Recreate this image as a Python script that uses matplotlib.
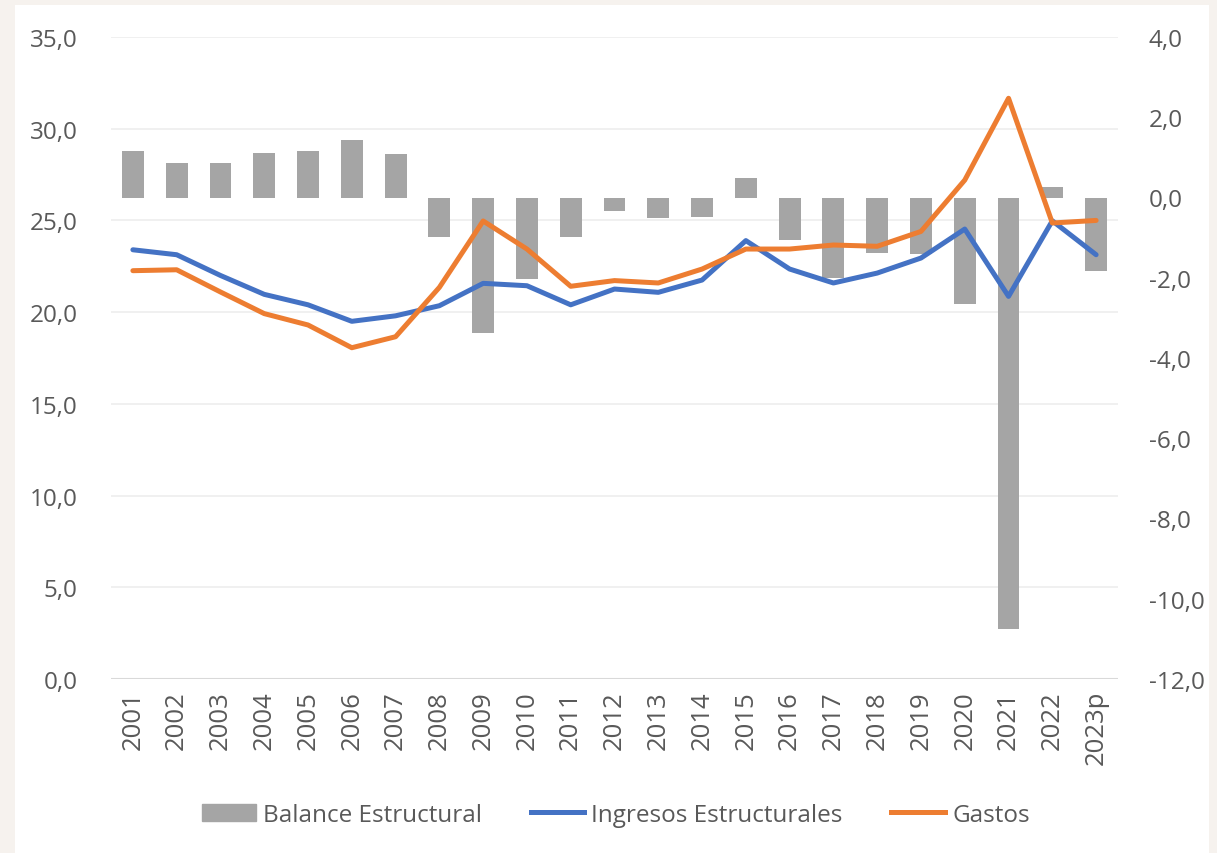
import numpy as np
import matplotlib.pyplot as plt
import matplotlib.patches as mpatches
from matplotlib.lines import Line2D

years = ['2001', '2002', '2003', '2004', '2005', '2006', '2007', '2008', '2009', '2010',
         '2011', '2012', '2013', '2014', '2015', '2016', '2017', '2018', '2019', '2020',
         '2021', '2022', '2023p']
balance = [1.15, 0.86, 0.85, 1.10, 1.15, 1.43, 1.09, -0.99, -3.38, -2.03,
           -0.99, -0.34, -0.50, -0.49, 0.49, -1.06, -2.01, -1.39, -1.42, -2.65,
           -10.75, 0.25, -1.84]
ingresos = [23.4, 23.13, 22.0, 20.97, 20.4, 19.5, 19.8, 20.35, 21.57, 21.44,
            20.4, 21.26, 21.08, 21.75, 23.9, 22.35, 21.59, 22.13, 22.95, 24.53,
            20.86, 24.98, 23.13]
gastos = [22.26, 22.31, 21.1, 19.92, 19.3, 18.06, 18.66, 21.35, 24.97, 23.44,
          21.41, 21.72, 21.59, 22.35, 23.44, 23.44, 23.66, 23.59, 24.4, 27.2,
          31.66, 24.86, 25.0]

gray = '#a5a5a5'
blue = '#4472c4'
orange = '#ed7d31'
txt = '#595959'
plt.rcParams['font.family'] = ['Open Sans', 'DejaVu Sans']

fig = plt.figure(figsize=(12.17, 8.54), dpi=100, facecolor='#f6f2ee')
fig.patches.append(mpatches.Rectangle((15 / 1217, 0), (1209 - 15) / 1217, 1 - 6 / 854,
                                      transform=fig.transFigure, facecolor='white',
                                      edgecolor='none', zorder=0))

x = np.arange(len(years))
ax = fig.add_axes([111 / 1217, 1 - 680 / 854, (1118 - 111) / 1217, (680 - 38) / 854])
ax.set_facecolor('none')
ax2 = ax.twinx()
ax.set_zorder(2)
ax2.set_zorder(1)

ax2.bar(x, balance, width=0.5, color=gray, zorder=2)
ax2.set_ylim(-12, 4)
ax2.set_yticks(np.arange(-12, 5, 2))
ax2.set_yticklabels([f'{v:.1f}'.replace('.', ',') for v in np.arange(-12, 5, 2)])

ax.plot(x, ingresos, color=blue, lw=3.6, solid_capstyle='round', solid_joinstyle='round')
ax.plot(x, gastos, color=orange, lw=3.6, solid_capstyle='round', solid_joinstyle='round')
ax.set_ylim(0, 35)
ax.set_xlim(-0.5, len(years) - 0.5)
ax.set_yticks(np.arange(0, 36, 5))
ax.set_yticklabels([f'{v:.1f}'.replace('.', ',') for v in np.arange(0, 36, 5)])
ax.set_xticks(x)
ax.set_xticklabels(years, rotation=90)

ax2.set_axisbelow(True)
for a in (ax, ax2):
    for s in a.spines.values():
        s.set_visible(False)
    a.tick_params(length=0, colors=txt, labelsize=17.5)
ax.tick_params(axis='y', pad=24)
ax.tick_params(axis='x', pad=8, labelsize=18.5)
ax2.tick_params(axis='y', pad=22)

for v in np.arange(5, 36, 5):
    ax2.axhline(-12 + v * 16 / 35, color='#efefef', lw=1.3, zorder=0)
ax2.axhline(-12, color='#d9d9d9', lw=1.5, zorder=0)

handles = [mpatches.Patch(color=gray, label='Balance Estructural'),
           Line2D([], [], color=blue, lw=3.6, label='Ingresos Estructurales'),
           Line2D([], [], color=orange, lw=3.6, label='Gastos')]
fig.legend(handles=handles, loc='center', bbox_to_anchor=(616 / 1217, 1 - 816 / 854),
           ncol=3, frameon=False, fontsize=17.5, labelcolor=txt, handlelength=2.2,
           handletextpad=0.3, columnspacing=2.0)

fig.savefig('out.png', dpi=100, facecolor=fig.get_facecolor())
